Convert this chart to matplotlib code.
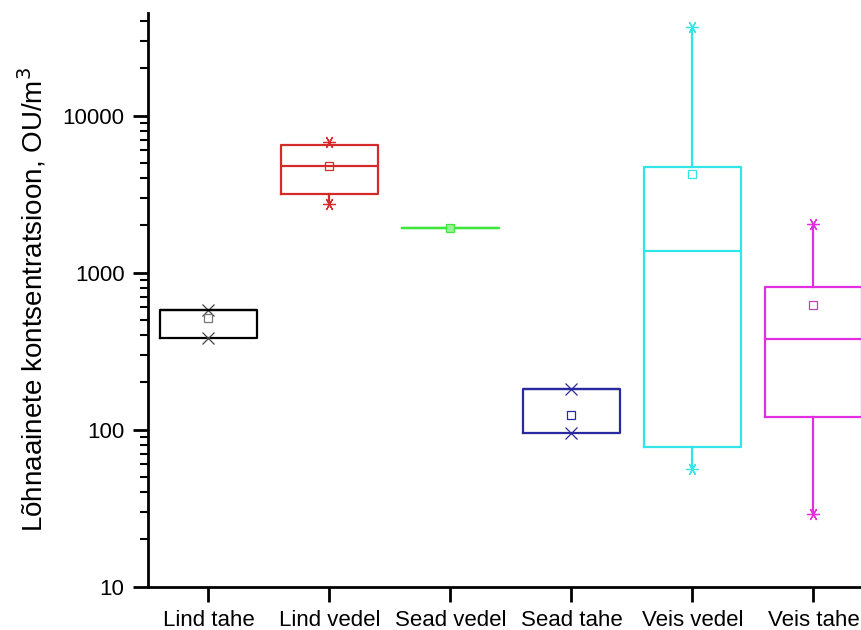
import matplotlib.pyplot as plt
import matplotlib
from matplotlib.ticker import LogLocator, NullFormatter, FixedLocator
matplotlib.rcParams['font.family'] = ['Liberation Sans', 'DejaVu Sans']

# andmed loetud jooniselt (OU/m3)
categories = ['Lind tahe', 'Lind vedel', 'Sead vedel', 'Sead tahe', 'Veis vedel', 'Veis tahe']
q1 = [382, 3190, 1920, 95.5, 78, 121]
q3 = [575, 6450, 1920, 181, 4700, 810]
medians = [575, 4760, 1920, 181, 1370, 380]
means = [517, 4760, 1920, 124, 4240, 622]
lows = [382, 2730, 1920, 95.5, 56, 29]
highs = [575, 6770, 1920, 181, 36900, 2030]

colors = ['black', '#d42a2a', '#3ee63e', '#2a2aa0', '#30e6e6', '#e02ee0']
mean_colors = ['#777777', '#d42a2a', '#3ee63e', '#2a2aa0', '#30e6e6', '#c040c0']
mean_fill = ['none', 'none', '#9af09a', 'none', 'none', 'none']
ext_colors = ['#444444', '#d42a2a', None, '#2a2aa0', '#30e6e6', '#e02ee0']
ext_markers = ['x', (6, 2, 90), None, 'x', (6, 2, 90), (6, 2, 90)]

fig = plt.figure(figsize=(8.62, 6.30), dpi=100)
# telg ulatub paremalt pildist välja nagu originaalis
ax = fig.add_axes([148 / 862, 1 - 586.7 / 630, 726 / 862, (586.7 - 13) / 630])

positions = list(range(1, len(categories) + 1))
for i, pos in enumerate(positions):
    stats = [{'med': medians[i], 'q1': q1[i], 'q3': q3[i],
              'whislo': lows[i], 'whishi': highs[i], 'mean': means[i], 'fliers': []}]
    c = colors[i]
    ax.bxp(stats, positions=[pos], widths=0.8, showcaps=False, showfliers=False,
           showmeans=True,
           boxprops=dict(color=c, linewidth=1.6),
           whiskerprops=dict(color=c, linewidth=1.6),
           medianprops=dict(color=c, linewidth=1.6),
           meanprops=dict(marker='s', markersize=5.5, markerfacecolor=mean_fill[i],
                          markeredgecolor=mean_colors[i], markeredgewidth=0.9))
    if ext_markers[i] is not None:
        ax.plot([pos, pos], [lows[i], highs[i]], linestyle='none',
                marker=ext_markers[i], markersize=9, color=ext_colors[i],
                markeredgewidth=0.9)

ax.set_yscale('log')
ax.set_ylim(10, 45000)
ax.set_xlim(0.5, 6.5)
ax.set_xticks(positions)
ax.set_xticklabels(categories, fontsize=16)
ax.yaxis.set_major_locator(FixedLocator([10, 100, 1000, 10000]))
ax.set_yticklabels(['10', '100', '1000', '10000'], fontsize=16)
ax.yaxis.set_minor_locator(LogLocator(base=10, subs=range(2, 10)))
ax.yaxis.set_minor_formatter(NullFormatter())

ax.set_ylabel('Lõhnaainete kontsentratsioon, OU/m$^3$', fontsize=20, labelpad=10)

for side in ['top', 'right']:
    ax.spines[side].set_visible(False)
for side in ['left', 'bottom']:
    ax.spines[side].set_linewidth(2)

ax.tick_params(axis='both', which='major', direction='out', length=11, width=2, pad=6)
ax.tick_params(axis='y', which='minor', direction='out', length=6, width=1.5)

fig.savefig('out.png', dpi=100)
